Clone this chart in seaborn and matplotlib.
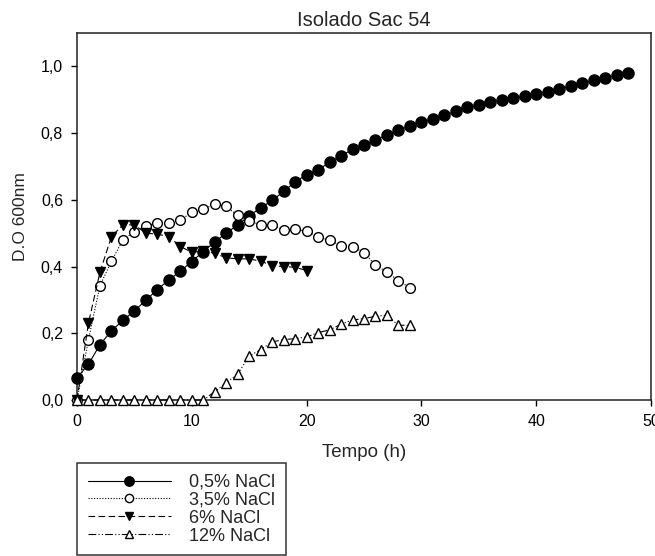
import numpy as np
import pandas as pd
import matplotlib
matplotlib.use("Agg")
import matplotlib.pyplot as plt
import seaborn as sns

# Optical density (600 nm) over time for isolate Sac 54 at four NaCl levels
time_05 = list(range(0, 49))
od_05 = [0.067, 0.107, 0.166, 0.207, 0.239, 0.267, 0.299, 0.331, 0.360, 0.386,
         0.415, 0.445, 0.474, 0.500, 0.525, 0.552, 0.576, 0.598, 0.625, 0.654,
         0.675, 0.690, 0.712, 0.732, 0.751, 0.764, 0.779, 0.794, 0.809, 0.821,
         0.833, 0.843, 0.853, 0.866, 0.877, 0.884, 0.893, 0.899, 0.905, 0.911,
         0.918, 0.924, 0.932, 0.941, 0.950, 0.958, 0.965, 0.973, 0.980]

time_35 = list(range(0, 30))
od_35 = [0.0, 0.181, 0.343, 0.416, 0.480, 0.505, 0.522, 0.530, 0.532, 0.540,
         0.562, 0.571, 0.588, 0.580, 0.553, 0.537, 0.525, 0.525, 0.510, 0.512,
         0.506, 0.489, 0.479, 0.462, 0.460, 0.441, 0.405, 0.383, 0.358, 0.336]

time_6 = list(range(0, 21))
od_6 = [0.0, 0.231, 0.383, 0.490, 0.525, 0.525, 0.500, 0.497, 0.490, 0.460,
        0.443, 0.446, 0.440, 0.426, 0.423, 0.423, 0.416, 0.403, 0.400, 0.398,
        0.388]

time_12 = list(range(0, 30))
od_12 = [0.0, 0.0, 0.0, 0.0, 0.0, 0.0, 0.0, 0.0, 0.0, 0.0,
         0.0, 0.0, 0.025, 0.052, 0.078, 0.132, 0.151, 0.174, 0.181, 0.184,
         0.189, 0.202, 0.210, 0.227, 0.240, 0.244, 0.251, 0.254, 0.224, 0.224]

labels = ["0,5% NaCl", "3,5% NaCl", "6% NaCl", "12% NaCl"]
x_ticks = [0, 10, 20, 30, 40, 50]
y_ticks = [0.0, 0.2, 0.4, 0.6, 0.8, 1.0]
y_tick_labels = ["0,0", "0,2", "0,4", "0,6", "0,8", "1,0"]

sns.set_style("ticks")
plt.rcParams["font.family"] = ["Liberation Sans", "DejaVu Sans"]

fig = plt.figure(figsize=(6.55, 5.56), dpi=100)
ax = fig.add_axes([77 / 655, 1 - 400 / 556, (651 - 77) / 655, (400 - 33) / 556])

series = [
    (time_05, od_05, dict(marker="o", markersize=8, markerfacecolor="black",
                          linestyle="-")),
    (time_35, od_35, dict(marker="o", markersize=7, markerfacecolor="white",
                          linestyle=(0, (1, 1.5)))),
    (time_6, od_6, dict(marker="v", markersize=7.5, markerfacecolor="black",
                        linestyle=(0, (6, 3)))),
    (time_12, od_12, dict(marker="^", markersize=7.5, markerfacecolor="white",
                          linestyle=(0, (7, 2, 1, 2, 1, 2)))),
]

for (t, od, style), lab in zip(series, labels):
    df = pd.DataFrame({"Tempo (h)": t, "D.O 600nm": od})
    sns.lineplot(data=df, x="Tempo (h)", y="D.O 600nm", ax=ax, color="black",
                 linewidth=0.8, markeredgecolor="black", markeredgewidth=1.0,
                 label=lab, clip_on=False, zorder=3, **style)

ax.set_xlim(0, 50)
ax.set_ylim(0, 1.1)
ax.set_xticks(x_ticks)
ax.set_xticklabels([str(v) for v in x_ticks])
ax.set_yticks(y_ticks)
ax.set_yticklabels(y_tick_labels)
ax.tick_params(direction="out", length=4, width=1, labelsize=11.5, pad=6,
               colors="black")
for sp in ax.spines.values():
    sp.set_visible(True)
    sp.set_linewidth(1.1)
    sp.set_color("#222222")

ax.set_title("Isolado Sac 54", fontsize=14.5, pad=5)
ax.set_xlabel("Tempo (h)", fontsize=13.5, labelpad=11)
ax.set_ylabel("D.O 600nm", fontsize=12.5, labelpad=9)

handles, labs = ax.get_legend_handles_labels()
leg = ax.legend(handles, labs, loc="upper left",
                bbox_to_anchor=(77 / 655, 1 - 463 / 556),
                bbox_transform=fig.transFigure, borderaxespad=0,
                fontsize=13, handlelength=4.6, handletextpad=1.0,
                labelspacing=0.05, borderpad=0.6, numpoints=1,
                markerscale=0.85,
                fancybox=False, frameon=True, edgecolor="black")
leg.get_frame().set_linewidth(1.1)

fig.savefig("out.png", dpi=100)
